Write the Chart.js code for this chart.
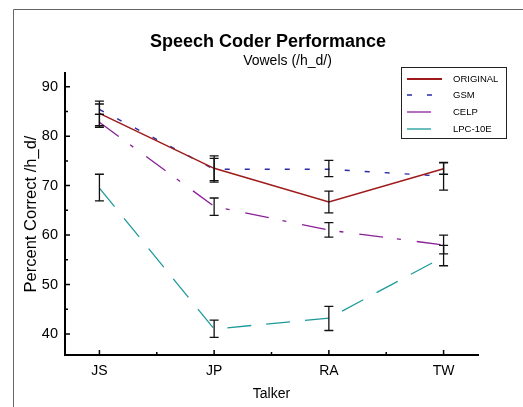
<!DOCTYPE html>
<html>
<head>
<meta charset="utf-8">
<script src="https://cdn.jsdelivr.net/npm/chart.js@4/dist/chart.umd.min.js"></script>
<style>
  html, body { margin: 0; padding: 0; background: #fff; }
  #wrap { position: relative; width: 523px; height: 407px; }
</style>
</head>
<body>
<div id="wrap"><canvas id="coderChart" width="523" height="407"></canvas></div>
<script>
// Speech coder performance: percent correct per talker, with error bars
const talkers = ['JS', 'JP', 'RA', 'TW'];

const original = [84.6, 73.5, 66.7, 73.4];
const originalLow = [82.1, 71.0, 64.5, 72.3];
const originalHigh = [87.1, 76.0, 68.9, 74.6];

const gsm = [85.4, 73.3, 73.3, 71.9];
const gsmLow = [84.4, 70.7, 71.8, 69.1];
const gsmHigh = [86.5, 75.5, 75.1, 74.7];

const celp = [82.8, 65.8, 61.0, 58.0];
const celpLow = [81.8, 64.0, 59.6, 56.2];
const celpHigh = [84.4, 67.5, 62.5, 60.0];

const lpc = [69.5, 41.0, 43.2, 55.6];
const lpcLow = [66.9, 39.3, 40.7, 53.8];
const lpcHigh = [72.3, 42.8, 45.6, 57.9];

const yTicks = [40, 50, 60, 70, 80, 90];
const yMinorTicks = [45, 55, 65, 75, 85];
const xTicks = [0, 1, 2, 3];
const xMinorTicks = [0.5, 1.5, 2.5];

const FONT = "'Liberation Sans', Arial, Helvetica, sans-serif";

function points(values) {
  return values.map((v, i) => ({ x: i, y: v }));
}

// page frame (top and left rules only)
const framePlugin = {
  id: 'frame',
  beforeDraw(chart) {
    const ctx = chart.ctx;
    ctx.save();
    ctx.fillStyle = '#fff';
    ctx.fillRect(0, 0, chart.width, chart.height);
    ctx.strokeStyle = '#666';
    ctx.lineWidth = 1;
    ctx.beginPath();
    ctx.moveTo(13.5, chart.height);
    ctx.lineTo(13.5, 9.5);
    ctx.lineTo(chart.width, 9.5);
    ctx.stroke();
    ctx.restore();
  }
};

const headingPlugin = {
  id: 'heading',
  afterDraw(chart) {
    const ctx = chart.ctx;
    ctx.save();
    ctx.fillStyle = '#000';
    ctx.textAlign = 'center';
    ctx.textBaseline = 'alphabetic';
    ctx.font = 'bold 18px ' + FONT;
    ctx.fillText('Speech Coder Performance', 268, 46.5);
    ctx.font = '14px ' + FONT;
    ctx.fillText('Vowels (/h_d/)', 287.5, 65);
    ctx.restore();
  }
};

// tick marks pointing into the plot
const innerTicksPlugin = {
  id: 'innerTicks',
  afterDraw(chart) {
    const ctx = chart.ctx;
    const { x, y } = chart.scales;
    const area = chart.chartArea;
    ctx.save();
    ctx.strokeStyle = '#000';
    ctx.lineWidth = 1.5;
    ctx.beginPath();
    yTicks.forEach(v => { const p = y.getPixelForValue(v); ctx.moveTo(area.left, p); ctx.lineTo(area.left + 5, p); });
    yMinorTicks.forEach(v => { const p = y.getPixelForValue(v); ctx.moveTo(area.left, p); ctx.lineTo(area.left + 3, p); });
    xTicks.forEach(v => { const p = x.getPixelForValue(v); ctx.moveTo(p, area.bottom); ctx.lineTo(p, area.bottom - 5); });
    xMinorTicks.forEach(v => { const p = x.getPixelForValue(v); ctx.moveTo(p, area.bottom); ctx.lineTo(p, area.bottom - 3); });
    ctx.stroke();
    ctx.restore();
  }
};

const errorBarPlugin = {
  id: 'errorBars',
  afterDatasetsDraw(chart) {
    const ctx = chart.ctx;
    const { x, y } = chart.scales;
    ctx.save();
    ctx.strokeStyle = '#111';
    ctx.lineWidth = 1.3;
    ctx.setLineDash([]);
    chart.data.datasets.forEach(ds => {
      ds.low.forEach((lo, i) => {
        const px = x.getPixelForValue(i);
        const p1 = y.getPixelForValue(lo);
        const p2 = y.getPixelForValue(ds.high[i]);
        ctx.beginPath();
        ctx.moveTo(px, p1); ctx.lineTo(px, p2);
        ctx.moveTo(px - 4.5, p1); ctx.lineTo(px + 4.5, p1);
        ctx.moveTo(px - 4.5, p2); ctx.lineTo(px + 4.5, p2);
        ctx.stroke();
      });
    });
    ctx.restore();
  }
};

// boxed legend in the upper right corner
const legendBoxPlugin = {
  id: 'legendBox',
  afterDraw(chart) {
    const ctx = chart.ctx;
    ctx.save();
    ctx.strokeStyle = '#222';
    ctx.lineWidth = 1;
    ctx.strokeRect(401.5, 67.5, 105, 71);
    ctx.font = '9.5px ' + FONT;
    ctx.textAlign = 'left';
    ctx.textBaseline = 'middle';
    const rows = [79, 95, 112, 129];
    chart.data.datasets.forEach((ds, i) => {
      ctx.strokeStyle = ds.borderColor;
      ctx.lineWidth = ds.legendWidth;
      ctx.setLineDash(ds.borderDash || []);
      ctx.beginPath();
      ctx.moveTo(407, rows[i]);
      ctx.lineTo(ds.legendEnd, rows[i]);
      ctx.stroke();
      ctx.setLineDash([]);
      ctx.fillStyle = '#000';
      ctx.fillText(ds.label, 453, rows[i] + 0.5);
    });
    ctx.restore();
  }
};

const ctx = document.getElementById('coderChart').getContext('2d');
const chart = new Chart(ctx, {
  type: 'line',
  data: {
    datasets: [
      { label: 'ORIGINAL', data: points(original), low: originalLow, high: originalHigh,
        borderColor: '#9e1a1a', borderWidth: 1.5, legendWidth: 2, legendEnd: 442 },
      { label: 'GSM', data: points(gsm), low: gsmLow, high: gsmHigh,
        borderColor: '#2a2aa8', borderWidth: 1.4, borderDash: [5, 15], legendWidth: 1.4, legendEnd: 432 },
      { label: 'CELP', data: points(celp), low: celpLow, high: celpHigh,
        borderColor: '#8a1f98', borderWidth: 1.3, borderDash: [24, 14, 4, 16], legendWidth: 1.3, legendEnd: 431 },
      { label: 'LPC-10E', data: points(lpc), low: lpcLow, high: lpcHigh,
        borderColor: '#1f9a9a', borderWidth: 1.3, borderDash: [24, 15], legendWidth: 1.3, legendEnd: 431 }
    ]
  },
  options: {
    responsive: false,
    animation: false,
    layout: { padding: { top: 73, right: 45, left: 0, bottom: 0 } },
    elements: { point: { radius: 0 }, line: { tension: 0, fill: false } },
    plugins: { legend: { display: false }, tooltip: { enabled: false } },
    scales: {
      x: {
        type: 'linear',
        min: -0.3,
        max: 3.3,
        afterBuildTicks: (scale) => { scale.ticks = xTicks.map(v => ({ value: v })); },
        afterFit: (scale) => { scale.height = 52; },
        ticks: {
          color: '#000', padding: 8, maxRotation: 0, autoSkip: false,
          font: { family: FONT, size: 14 },
          callback: (v) => talkers[v]
        },
        grid: { display: true, drawOnChartArea: false, drawTicks: false },
        border: { color: '#000', width: 2 },
        title: { display: true, text: 'Talker', color: '#000', font: { family: FONT, size: 14 }, padding: { top: 0, bottom: 4.6 } }
      },
      y: {
        type: 'linear',
        min: 35.75,
        max: 92.77,
        afterBuildTicks: (scale) => { scale.ticks = yTicks.map(v => ({ value: v })); },
        afterFit: (scale) => { scale.width = 65; },
        ticks: { color: '#000', padding: 7, font: { family: FONT, size: 14.5 } },
        grid: { display: true, drawOnChartArea: false, drawTicks: false },
        border: { color: '#000', width: 2 },
        title: { display: true, text: 'Percent Correct /h_d/', color: '#000', font: { family: FONT, size: 16.5 }, padding: { top: 21.6, bottom: 0 } }
      }
    }
  },
  plugins: [framePlugin, headingPlugin, innerTicksPlugin, errorBarPlugin, legendBoxPlugin]
});
</script>
</body>
</html>
